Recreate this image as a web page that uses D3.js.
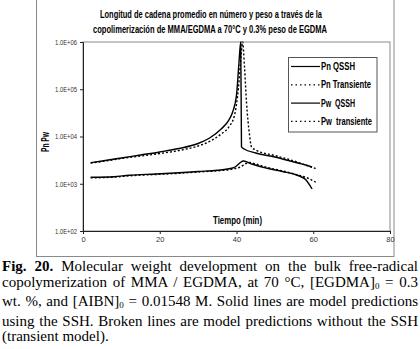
<!DOCTYPE html>
<html>
<head>
<meta charset="utf-8">
<script src="https://cdn.jsdelivr.net/npm/d3@7"></script>
<style>
  body { margin: 0; background: #fff; }
  #chart { position: absolute; left: 0; top: 0; }
  #caption { position: absolute; left: 2px; top: 259px; width: 416px;
    font-family: "Liberation Serif", "Times New Roman", serif; font-size: 15px; line-height: 15.6px; color: #000; }
  #caption div { text-align: justify; text-align-last: justify; white-space: nowrap; }
  #caption div.last { text-align-last: left; }
</style>
</head>
<body>
<svg id="chart"></svg>
<div id="caption"></div>
<script>
// data: [time (min), chain length]
var pnQssh = [[2, 1369], [8, 1410], [12, 1510], [19, 1608], [25, 1706], [30, 1816], [35, 1927], [39, 2155],
  [40, 2377], [41, 2818], [41.8, 3030], [43, 2818], [44, 2618], [48, 2124], [52, 1816], [56, 1495], [58, 1230], [59.7, 774]];
var pnTrans = [[2, 1336], [8, 1376], [12, 1473], [19, 1570], [25, 1665], [30, 1774], [35, 1880], [39, 2053],
  [41, 2262], [42.5, 2683], [43.5, 2818], [45, 2618], [48, 2207], [52, 1862], [56, 1531], [58.5, 1324], [61, 1038]];
var pwQssh = [[2, 2790], [5, 3030], [10, 3510], [15, 4060], [20, 4700], [25, 5570], [30, 7110], [33, 9300],
  [36, 14400], [38, 22300], [39, 33000], [40, 75500], [40.6, 326000], [41.1, 1000000], [41.3, 6000], [42, 5440],
  [45, 4480], [50, 3680], [55, 2880], [58, 2490], [59.7, 2260]];
var pwTrans = [[2, 2750], [5, 2960], [10, 3420], [15, 3860], [20, 4360], [25, 5050], [30, 6300], [33, 7840],
  [36, 11300], [38, 15900], [39.5, 28500], [40.5, 106000], [41.2, 531000], [41.6, 1000000], [42.1, 282000],
  [42.6, 53700], [43.4, 10800], [43.9, 6000], [45, 5180], [50, 3960], [55, 3030], [58, 2490], [61, 2050]];

var xTicks = [0, 20, 40, 60, 80];
var yTicks = [1e2, 1e3, 1e4, 1e5, 1e6];
var yTickLabels = ["1.0E+02", "1.0E+03", "1.0E+04", "1.0E+05", "1.0E+06"];
var legendNames = ["Pn QSSH", "Pn Transiente", "Pw  QSSH", "Pw  transiente"];
var titleLines = ["Longitud de cadena promedio en número y peso a través de la",
  "copolimerización de MMA/EGDMA a 70°C y 0.3%  peso de EGDMA"];

function init() {
  var w = 420, h = 258;
  var font = "'Liberation Sans', Arial, sans-serif";
  var svg = d3.select("#chart").attr("width", w).attr("height", h);

  // squeeze text to the narrow widths seen in the picture
  function fit(sel, width) {
    sel.attr("textLength", width).attr("lengthAdjust", "spacingAndGlyphs");
  }

  // outer chart box
  svg.append("rect").attr("x", 36.5).attr("y", -2).attr("width", 357.5).attr("height", 258.5)
    .attr("fill", "#fff").attr("stroke", "#8a8a8a").attr("stroke-width", 1);

  var x = d3.scaleLinear().domain([0, 80]).range([83, 390]);
  var y = d3.scaleLog().domain([1e2, 1e6]).range([231, 42]);

  // plot area frame
  svg.append("rect").attr("x", x(0)).attr("y", y(1e6)).attr("width", x(80) - x(0)).attr("height", y(1e2) - y(1e6))
    .attr("fill", "none").attr("stroke", "#8a8a8a").attr("stroke-width", 1);

  var xAxis = d3.axisBottom(x).tickValues(xTicks).tickSize(3).tickPadding(3);
  var yAxis = d3.axisLeft(y).tickValues(yTicks).tickSize(3).tickPadding(3)
    .tickFormat(function(d, i) { return yTickLabels[i]; });

  var gx = svg.append("g").attr("transform", "translate(0," + y(1e2) + ")").call(xAxis);
  var gy = svg.append("g").attr("transform", "translate(" + x(0) + ",0)").call(yAxis);
  [gx, gy].forEach(function(g) {
    g.select(".domain").attr("stroke", "#222");
    g.selectAll(".tick line").attr("stroke", "#222");
    g.selectAll("text").attr("font-family", font).attr("font-size", "7.5px").attr("fill", "#333");
  });
  fit(gy.selectAll("text"), 22);

  var line = d3.line()
    .x(function(d) { return x(d[0]); })
    .y(function(d) { return y(d[1]); })
    .curve(d3.curveMonotoneX);

  var series = [
    { data: pnQssh, dash: null },
    { data: pnTrans, dash: "2,2" },
    { data: pwQssh, dash: null },
    { data: pwTrans, dash: "2,2" }
  ];
  svg.selectAll("path.curve").data(series).enter().append("path")
    .attr("class", "curve")
    .attr("d", function(d) { return line(d.data); })
    .attr("fill", "none").attr("stroke", "#000").attr("stroke-width", 1.4)
    .attr("stroke-dasharray", function(d) { return d.dash; });

  // title
  var titleWidths = [222, 234];
  svg.selectAll("text.title").data(titleLines).enter().append("text")
    .attr("class", "title")
    .attr("x", function(d, i) { return i === 0 ? 100 : 93; })
    .attr("y", function(d, i) { return 18 + i * 14.5; })
    .attr("font-family", font).attr("font-weight", "bold")
    .attr("font-size", "10.5px").text(function(d) { return d; })
    .each(function(d, i) { fit(d3.select(this), titleWidths[i]); });

  // axis titles
  svg.append("text").attr("transform", "translate(49,132) rotate(-90)")
    .attr("text-anchor", "end").attr("font-family", font).attr("font-weight", "bold")
    .attr("font-size", "10px").text("Pn Pw").call(fit, 20);
  svg.append("text").attr("x", 213).attr("y", 224)
    .attr("font-family", font).attr("font-weight", "bold")
    .attr("font-size", "10px").text("Tiempo (min)").call(fit, 49);

  // legend
  var legendWidths = [34, 50, 34, 51];
  var lg = svg.append("g");
  lg.append("rect").attr("x", 288.5).attr("y", 57.5).attr("width", 88.5).attr("height", 74.5)
    .attr("fill", "#fff").attr("stroke", "#555").attr("stroke-width", 1);
  var items = lg.selectAll("g.item").data(legendNames).enter().append("g")
    .attr("class", "item")
    .attr("transform", function(d, i) { return "translate(0," + (66.5 + i * 18.3) + ")"; });
  items.append("line").attr("x1", 291).attr("x2", 320).attr("y1", 0).attr("y2", 0)
    .attr("stroke", "#000").attr("stroke-width", 1.2)
    .attr("stroke-dasharray", function(d, i) { return series[i].dash ? "1.5,3" : null; });
  items.append("text").attr("x", 321).attr("y", 3.5)
    .attr("font-family", font).attr("font-weight", "bold").attr("font-size", "10px")
    .style("white-space", "pre")
    .text(function(d) { return d; })
    .each(function(d, i) { fit(d3.select(this), legendWidths[i]); });

  // caption
  var cap = d3.select("#caption");
  var l1 = cap.append("div");
  l1.append("b").text("Fig. 20.");
  l1.append("span").text(" Molecular weight development on the bulk free-radical");
  var l2 = cap.append("div");
  l2.append("span").text("copolymerization of MMA / EGDMA, at 70 °C, [EGDMA]");
  l2.append("sub").style("font-size", "9px").style("vertical-align", "-2px").text("0");
  l2.append("span").text(" = 0.3");
  var l3 = cap.append("div");
  l3.append("span").text("wt. %, and [AIBN]");
  l3.append("sub").style("font-size", "9px").style("vertical-align", "-2px").text("0");
  l3.append("span").text(" = 0.01548 M. Solid lines are model predictions");
  cap.append("div").text("using the SSH. Broken lines are model predictions without the SSH");
  cap.append("div").attr("class", "last").text("(transient model).");
}
window.onload = init;
</script>
</body>
</html>
